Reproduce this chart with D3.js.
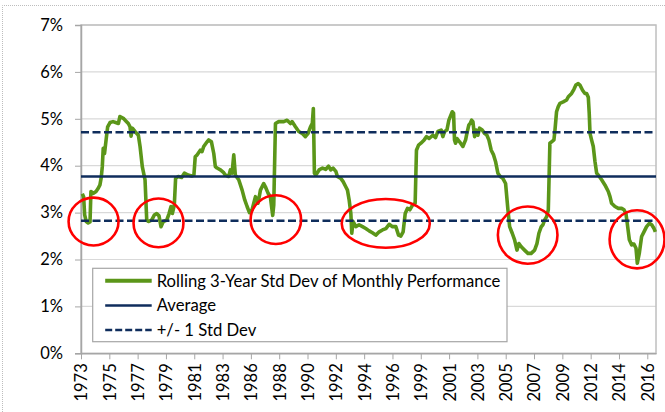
<!DOCTYPE html>
<html>
<head>
<meta charset="utf-8">
<script src="https://cdn.jsdelivr.net/npm/d3@7"></script>
<style>
  body { margin: 0; background: #fff; }
  svg { display: block; font-family: Lato, "Open Sans", sans-serif; }
  .axis path, .axis line { stroke: #a6a6a6; }
  .axis text { fill: #000; font-size: 16.5px; font-family: Lato, "Open Sans", sans-serif; }
</style>
</head>
<body>
<div id="chart"></div>
<script>
// Rolling 3-year std dev of monthly performance (decimal year, %)
const years = [
  1973.10, 1973.20, 1973.28, 1973.40, 1973.55, 1973.69, 1973.76, 1973.95, 1974.15, 1974.32,
  1974.45, 1974.55, 1974.63, 1974.70, 1974.80, 1974.92, 1975.04, 1975.22, 1975.45, 1975.65,
  1975.86, 1975.98, 1976.24, 1976.45, 1976.62, 1976.75, 1976.83, 1976.93, 1977.13, 1977.39,
  1977.52, 1977.69, 1977.90, 1978.03, 1978.15, 1978.41, 1978.61, 1978.79, 1978.97, 1979.12,
  1979.30, 1979.56, 1979.74, 1979.89, 1979.99, 1980.14, 1980.24, 1980.45, 1980.70, 1980.91,
  1981.20, 1981.47, 1981.64, 1981.74, 1981.88, 1982.13, 1982.26, 1982.39, 1982.65, 1982.77,
  1982.98, 1983.16, 1983.28, 1983.41, 1983.67, 1983.92, 1984.05, 1984.30, 1984.43, 1984.56,
  1984.69, 1984.81, 1985.07, 1985.33, 1985.53, 1985.71, 1985.89, 1986.09, 1986.35, 1986.55,
  1986.73, 1986.98, 1987.11, 1987.32, 1987.49, 1987.67, 1987.75, 1987.88, 1988.13, 1988.52,
  1988.77, 1989.03, 1989.15, 1989.41, 1989.66, 1989.92, 1990.17, 1990.38, 1990.56, 1990.70,
  1990.78, 1990.86, 1990.97, 1991.22, 1991.48, 1991.73, 1991.94, 1992.11, 1992.29, 1992.50,
  1992.62, 1992.88, 1993.06, 1993.26, 1993.39, 1993.52, 1993.65, 1993.72, 1993.82, 1994.03,
  1994.28, 1994.54, 1994.79, 1995.05, 1995.30, 1995.56, 1995.82, 1996.07, 1996.33, 1996.58,
  1996.84, 1997.09, 1997.30, 1997.47, 1997.65, 1997.81, 1997.98, 1998.16, 1998.37, 1998.57,
  1998.67, 1998.83, 1999.01, 1999.26, 1999.44, 1999.64, 1999.92, 2000.13, 2000.31, 2000.56,
  2000.69, 2000.82, 2001.00, 2001.15, 2001.25, 2001.41, 2001.51, 2001.58, 2001.66, 2001.76,
  2001.97, 2002.22, 2002.43, 2002.53, 2002.68, 2002.78, 2002.89, 2002.99, 2003.12, 2003.24,
  2003.37, 2003.50, 2003.70, 2003.88, 2004.06, 2004.21, 2004.39, 2004.57, 2004.72, 2004.90,
  2005.08, 2005.28, 2005.49, 2005.67, 2005.80, 2006.00, 2006.18, 2006.36, 2006.51, 2006.69,
  2006.94, 2007.20, 2007.45, 2007.71, 2007.89, 2008.04, 2008.22, 2008.35, 2008.47, 2008.63,
  2008.76, 2008.88, 2009.01, 2009.19, 2009.27, 2009.39, 2009.52, 2009.65, 2009.90, 2010.16,
  2010.29, 2010.54, 2010.72, 2010.87, 2011.05, 2011.18, 2011.38, 2011.56, 2011.69, 2011.82,
  2011.89, 2011.95, 2012.07, 2012.20, 2012.33, 2012.46, 2012.66, 2012.84, 2013.09, 2013.35,
  2013.48, 2013.60, 2013.86, 2014.12, 2014.37, 2014.55, 2014.70, 2014.80, 2014.96, 2015.14,
  2015.31, 2015.47, 2015.57, 2015.72, 2015.90, 2016.08, 2016.28, 2016.49, 2016.67, 2016.85,
  2016.95
];
const stdDevValues = [
  3.40, 3.34, 2.95, 2.81, 2.78, 2.80, 3.45, 3.41, 3.45, 3.52,
  3.59, 3.75, 3.98, 4.37, 4.26, 4.55, 4.83, 4.92, 4.94, 4.92,
  4.90, 5.05, 5.01, 4.95, 4.90, 4.83, 4.63, 4.80, 4.73, 4.65,
  4.41, 3.98, 3.70, 2.84, 2.81, 2.84, 2.95, 2.98, 2.93, 2.70,
  2.81, 2.84, 2.98, 3.13, 2.98, 3.16, 3.73, 3.77, 3.75, 3.84,
  3.80, 3.78, 3.80, 4.19, 4.23, 4.33, 4.30, 4.41, 4.51, 4.55,
  4.51, 4.26, 3.98, 3.95, 3.91, 3.85, 3.80, 3.77, 3.91, 3.84,
  4.23, 3.80, 3.70, 3.48, 3.27, 3.13, 3.00, 3.06, 3.34, 3.20,
  3.48, 3.62, 3.55, 3.41, 3.34, 2.94, 3.16, 4.90, 4.94, 4.94,
  4.97, 4.90, 4.94, 4.83, 4.73, 4.69, 4.62, 4.69, 4.83, 4.90,
  5.22, 3.84, 3.80, 3.91, 3.95, 3.92, 3.99, 3.91, 3.95, 3.88,
  3.77, 3.73, 3.66, 3.55, 3.48, 3.27, 2.98, 2.56, 2.81, 2.70,
  2.74, 2.70, 2.66, 2.61, 2.57, 2.52, 2.59, 2.63, 2.66, 2.75,
  2.70, 2.70, 2.52, 2.50, 2.59, 2.98, 3.09, 3.06, 3.16, 3.20,
  4.33, 4.44, 4.48, 4.55, 4.62, 4.58, 4.65, 4.60, 4.73, 4.76,
  4.62, 4.73, 4.76, 4.97, 5.04, 5.15, 5.12, 4.55, 4.48, 4.58,
  4.51, 4.41, 4.55, 4.69, 4.87, 4.90, 4.97, 4.94, 4.62, 4.76,
  4.65, 4.80, 4.76, 4.69, 4.65, 4.55, 4.33, 4.23, 4.09, 3.84,
  3.77, 3.73, 3.62, 3.06, 2.70, 2.56, 2.42, 2.20, 2.34, 2.27,
  2.20, 2.13, 2.13, 2.20, 2.34, 2.56, 2.70, 2.74, 2.84, 2.91,
  3.06, 4.48, 4.51, 4.55, 4.76, 5.15, 5.26, 5.33, 5.36, 5.40,
  5.47, 5.54, 5.63, 5.72, 5.75, 5.72, 5.61, 5.54, 5.54, 5.46,
  5.12, 4.69, 4.55, 4.41, 4.09, 3.84, 3.77, 3.70, 3.59, 3.45,
  3.34, 3.20, 3.13, 3.09, 3.09, 3.06, 2.98, 2.77, 2.42, 2.31,
  2.33, 2.24, 1.92, 2.13, 2.49, 2.59, 2.70, 2.77, 2.74, 2.66,
  2.59
];
const averageValue = 3.77;
const stdDevBand = 0.945;

// category axis: a label every 26 months from Jan 1973
const tickLabels = ['1973', '1975', '1977', '1979', '1981', '1983', '1986', '1988', '1990', '1992',
  '1994', '1996', '1999', '2001', '2003', '2005', '2007', '2009', '2012', '2014', '2016'];
const tickStepMonths = 26;
const yTicks = [0, 1, 2, 3, 4, 5, 6, 7];

// low-volatility periods circled in red: centre (year, %) and radii (years, %)
const highlights = [
  { year: 1973.96, value: 2.81, rYears: 1.91, rValue: 0.51 },
  { year: 1978.93, value: 2.78, rYears: 1.91, rValue: 0.52 },
  { year: 1987.91, value: 2.85, rYears: 1.93, rValue: 0.52 },
  { year: 1996.32, value: 2.77, rYears: 3.37, rValue: 0.52 },
  { year: 2007.18, value: 2.52, rYears: 2.28, rValue: 0.61 },
  { year: 2015.55, value: 2.43, rYears: 2.10, rValue: 0.62 }
];

const legendItems = [
  { label: 'Rolling 3-Year Std Dev of Monthly Performance', color: '#5b9619', width: 4, dash: null },
  { label: 'Average', color: '#0f2d5c', width: 2.5, dash: null },
  { label: '+/- 1 Std Dev', color: '#0f2d5c', width: 2.5, dash: '7,3' }
];

const width = 665;
const height = 412;
const plot = { left: 81, right: 656, top: 25, bottom: 353.3 };

const svg = d3.select('#chart')
  .append('svg')
  .attr('width', width)
  .attr('height', height);

svg.append('rect').attr('width', width).attr('height', height).attr('fill', '#fff');

// dotted chart-area border (partly cropped in the source)
svg.append('path')
  .attr('d', `M2.5,${height} V5.5 H${width}`)
  .attr('fill', 'none')
  .attr('stroke', '#bdbdbd')
  .attr('stroke-dasharray', '1,1');

const x = d3.scaleLinear().domain([1973, 2017]).range([plot.left, plot.right]);
const y = d3.scaleLinear().domain([0, 7]).range([plot.bottom, plot.top]);

// gridlines
svg.append('g')
  .selectAll('line')
  .data(yTicks.slice(1))
  .enter()
  .append('line')
  .attr('x1', plot.left)
  .attr('x2', plot.right)
  .attr('y1', d => y(d))
  .attr('y2', d => y(d))
  .attr('stroke', '#d9d9d9')
  .attr('stroke-width', 1.2);

// plot border
svg.append('rect')
  .attr('x', plot.left)
  .attr('y', plot.top)
  .attr('width', plot.right - plot.left)
  .attr('height', plot.bottom - plot.top)
  .attr('fill', 'none')
  .attr('stroke', '#bfbfbf')
  .attr('stroke-width', 1.5);

// y axis
const yAxis = svg.append('g')
  .attr('class', 'axis')
  .attr('transform', `translate(${plot.left},0)`)
  .call(d3.axisLeft(y).tickValues(yTicks).tickFormat(d => d + '%').tickSize(6).tickPadding(12));
yAxis.select('.domain').attr('stroke-width', 1.5);

// x axis
const tickYears = tickLabels.map((d, i) => 1973 + i * tickStepMonths / 12);
const xAxis = svg.append('g')
  .attr('class', 'axis')
  .attr('transform', `translate(0,${plot.bottom})`)
  .call(d3.axisBottom(x).tickValues(tickYears).tickFormat((d, i) => tickLabels[i]).tickSize(6).tickSizeOuter(0));
xAxis.select('.domain').attr('stroke-width', 1.5);
xAxis.selectAll('text')
  .attr('transform', 'rotate(-90)')
  .attr('x', -10)
  .attr('y', 0)
  .attr('dy', '0.36em')
  .style('text-anchor', 'end');

// series line
const points = years.map((yr, i) => [yr, stdDevValues[i]]);
svg.append('path')
  .datum(points)
  .attr('fill', 'none')
  .attr('stroke', legendItems[0].color)
  .attr('stroke-width', 3.6)
  .attr('stroke-linejoin', 'round')
  .attr('d', d3.line().x(d => x(d[0])).y(d => y(d[1])));

// average and +/- 1 std dev
const refLines = [
  { value: averageValue, dash: null },
  { value: averageValue + stdDevBand, dash: '8,3.5' },
  { value: averageValue - stdDevBand, dash: '8,3.5' }
];
svg.append('g')
  .selectAll('line')
  .data(refLines)
  .enter()
  .append('line')
  .attr('x1', plot.left)
  .attr('x2', plot.right)
  .attr('y1', d => y(d.value))
  .attr('y2', d => y(d.value))
  .attr('stroke', '#0f2d5c')
  .attr('stroke-width', 2.5)
  .attr('stroke-dasharray', d => d.dash);

// red circles
svg.append('g')
  .selectAll('ellipse')
  .data(highlights)
  .enter()
  .append('ellipse')
  .attr('cx', d => x(d.year))
  .attr('cy', d => y(d.value))
  .attr('rx', d => x(d.year + d.rYears) - x(d.year))
  .attr('ry', d => y(d.value - d.rValue) - y(d.value))
  .attr('fill', 'none')
  .attr('stroke', '#ff0000')
  .attr('stroke-width', 2.6);

// legend
const legend = svg.append('g').attr('transform', 'translate(92.7,268.3)');
legend.append('rect')
  .attr('width', 414.3)
  .attr('height', 73.4)
  .attr('fill', '#fff')
  .attr('stroke', '#a6a6a6')
  .attr('stroke-width', 1.2);

const row = legend.selectAll('g.row')
  .data(legendItems)
  .enter()
  .append('g')
  .attr('class', 'row')
  .attr('transform', (d, i) => `translate(0,${12.4 + i * 24.7})`);

row.append('line')
  .attr('x1', 12.5)
  .attr('x2', 59)
  .attr('stroke', d => d.color)
  .attr('stroke-width', d => d.width)
  .attr('stroke-dasharray', d => d.dash);

const legendText = row.append('text')
  .attr('x', 64)
  .attr('dy', '0.36em')
  .attr('font-size', 16)
  .attr('fill', '#000')
  .text(d => d.label);

// size the legend font so the longest label spans the same width as in the source
const longest = legendText.nodes()[0].getComputedTextLength();
legendText.attr('font-size', 16 * 344 / longest);
</script>
</body>
</html>
